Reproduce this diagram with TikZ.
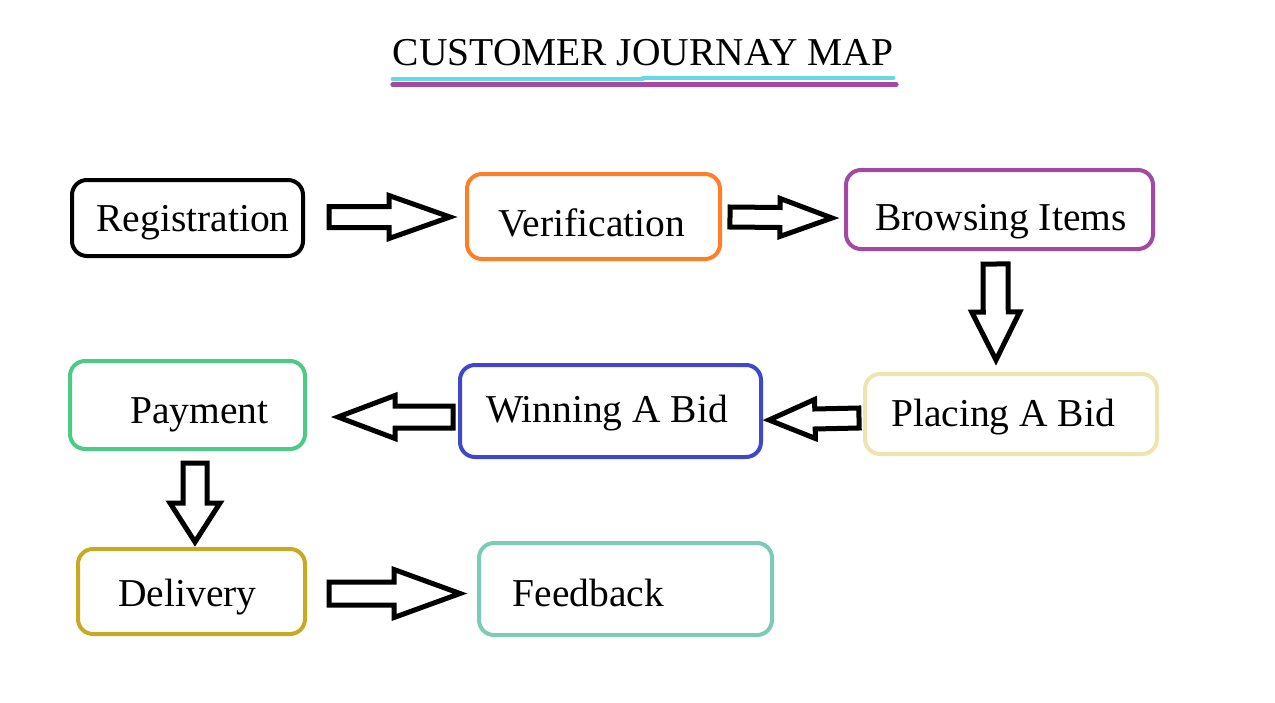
\documentclass[tikz,border=0pt]{standalone}
\usepackage{fontspec}
\setmainfont{Liberation Serif}
\usetikzlibrary{calc}
\definecolor{VerOrange}{HTML}{FF7F27}
\definecolor{BrowPurple}{HTML}{A349A4}
\definecolor{PlaceYellow}{HTML}{EFE4B0}
\definecolor{WinBlue}{HTML}{3F48CC}
\definecolor{PayGreen}{HTML}{4CCB87}
\definecolor{DelGold}{HTML}{C9A922}
\definecolor{FeedTeal}{HTML}{7BCBB7}
\definecolor{TitleCyan}{HTML}{66D9E8}
\tikzset{
  stage/.style={draw=#1, line width=4pt, rounded corners=15pt, inner sep=0pt},
  lbl/.style={anchor=base, inner sep=0pt},
  barrow/.style={draw=black, fill=white, line width=5pt, line join=miter},
}
% block arrow: from, to, head length, shaft half width, head half width
\newcommand{\blockarrow}[5]{%
  \coordinate (hb) at ($(#2)!#3pt!(#1)$);
  \draw[barrow] ($(#1)!#4pt!90:(#2)$) -- ($(hb)!#4pt!90:(#2)$) -- ($(hb)!#5pt!90:(#2)$)
    -- (#2) -- ($(hb)!#5pt!-90:(#2)$) -- ($(hb)!#4pt!-90:(#2)$) -- ($(#1)!#4pt!-90:(#2)$) -- cycle;
}

\begin{document}
\begin{tikzpicture}[x=1pt,y=-1pt,font=\fontsize{39.5}{47}\selectfont]
    \useasboundingbox[fill=white] (0,0) rectangle (1275,702);
    % title
    \node[lbl] (title) at (643,65) {CUSTOMER JOURNAY MAP};
    \draw[TitleCyan, line width=4pt, line cap=round] ($(title.base west)+(0,14)$) -- ($(title.base)+(0,14)$);
    \draw[TitleCyan, line width=4pt, line cap=round] ($(title.base)+(0,12.5)$) -- ($(title.base east)+(0,12.5)$);
    \draw[BrowPurple, line width=4.5pt, line cap=round] ($(title.base west)+(0,19.5)$) -- ($(title.base east)+(3,19.5)$);
    % stages
    \node[stage=black, minimum width=231pt, minimum height=76pt] (reg) at (187.5,218) {};
    \node[stage=VerOrange, minimum width=253pt, minimum height=85pt] (ver) at (593.5,216.5) {};
    \node[stage=BrowPurple, minimum width=307pt, minimum height=79pt] (brow) at (999.5,209.5) {};
    \node[stage=PlaceYellow, minimum width=292pt, minimum height=80pt] (place) at (1011,414) {};
    \node[stage=WinBlue, minimum width=301pt, minimum height=92pt] (win) at (610.5,411) {};
    \node[stage=PayGreen, minimum width=235pt, minimum height=88pt] (pay) at (187.5,405) {};
    \node[stage=DelGold, minimum width=227pt, minimum height=85pt] (del) at (191.5,591.5) {};
    \node[stage=FeedTeal, minimum width=293pt, minimum height=92pt] (feed) at (625.5,589) {};
    \node[lbl] at ($(reg)+(5.5,13)$) {Registration};
    \node[lbl] at ($(ver)+(-1.5,19.5)$) {Verification};
    \node[lbl] at ($(brow)+(1.5,20.5)$) {Browsing Items};
    \node[lbl] at ($(place)+(-8,12)$) {Placing A Bid};
    \node[lbl] at ($(win)+(-3.5,11)$) {Winning A Bid};
    \node[lbl] at ($(pay)+(12,18)$) {Payment};
    \node[lbl] at ($(del)+(-4,14.5)$) {Delivery};
    \node[lbl] at ($(feed)+(-37,17)$) {Feedback};
    % arrows
    \coordinate (t1) at ($(reg.east)+(24,-1)$);
    \coordinate (h1) at ($(ver.west |- t1)+(-15,0)$);
    \coordinate (t2) at ($(ver.east)+(8,0.5)$);
    \coordinate (h2) at ($(brow.west |- t2)+(-12,1)$);
    \coordinate (t3) at ($(brow.south)+(-4,13)$);
    \coordinate (h3) at ($(place.north -| t3)+(0.5,-12)$);
    \coordinate (t4) at ($(place.west)+(-4,4)$);
    \coordinate (h4) at ($(win.east |- t4)+(6,2)$);
    \coordinate (t5) at ($(win.west)+(-5,6)$);
    \coordinate (h5) at ($(pay.east |- t5)+(31,0)$);
    \coordinate (t6) at ($(pay.south)+(7.5,12)$);
    \coordinate (h6) at ($(del.north -| t6)+(0,-5)$);
    \coordinate (t7) at ($(del.east)+(22,2)$);
    \coordinate (h7) at ($(feed.west |- t7)+(-17,0)$);
    \blockarrow{t1}{h1}{61}{10.5}{21.5}
    \blockarrow{t2}{h2}{52}{10}{19}
    \blockarrow{t3}{h3}{48}{12.5}{24}
    \blockarrow{t4}{h4}{46}{10}{19.5}
    \blockarrow{t5}{h5}{57}{11}{21.5}
    \blockarrow{t6}{h6}{39}{12}{25}
    \blockarrow{t7}{h7}{66}{11.5}{24}
\end{tikzpicture}
\end{document}
